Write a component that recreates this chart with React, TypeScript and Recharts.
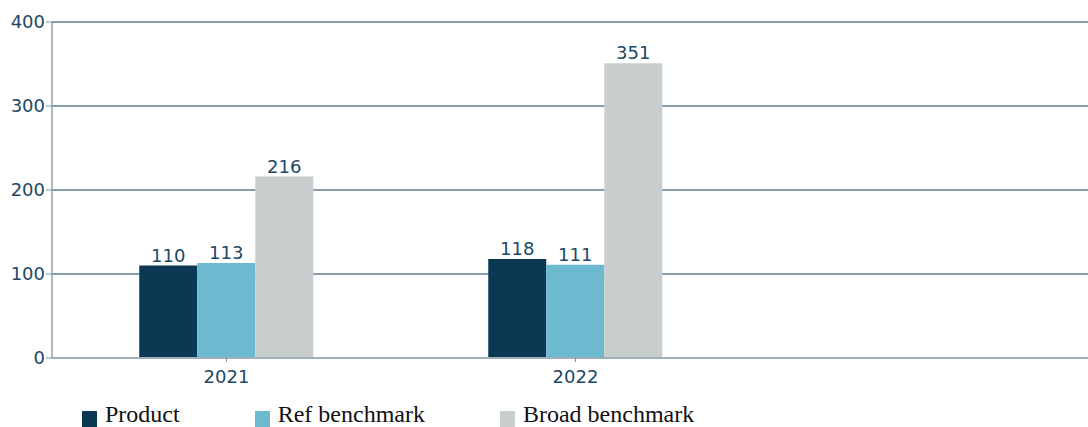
import { BarChart, Bar, XAxis, YAxis, CartesianGrid, LabelList } from 'recharts';

const categories = ['2021', '2022', ''];
const product = [110, 118, null];
const refBenchmark = [113, 111, null];
const broadBenchmark = [216, 351, null];
const yTicks = [0, 100, 200, 300, 400];

const seriesInfo = [
  { key: 'product', name: 'Product', color: '#0b3954' },
  { key: 'refBench', name: 'Ref benchmark', color: '#6db9cf' },
  { key: 'broadBench', name: 'Broad benchmark', color: '#c8cecd' },
];

const data = categories.map((c, i) => ({
  year: c,
  product: product[i],
  refBench: refBenchmark[i],
  broadBench: broadBenchmark[i],
}));

const textColor = '#1b4866';
const font = '"DejaVu Sans", Verdana, sans-serif';

// year tick with its small mark; the empty slot gets nothing
const YearTick = (props: any) => {
  const { x, y, payload } = props;
  if (!payload.value) return null;
  return (
    <g>
      <line x1={x} x2={x} y1={y - 9} y2={y - 4} stroke="#7f95a5" />
      <text x={x} y={y + 17} textAnchor="middle" fill={textColor} fontSize={18} fontFamily={font}>
        {payload.value}
      </text>
    </g>
  );
};

export default function App() {
  return (
    <div style={{ position: 'fixed', left: 0, top: 0, width: 1088, height: 427, overflow: 'hidden', background: '#fff' }}>
      <style>{'html,body{margin:0;overflow:hidden}'}</style>
      <BarChart
        width={1100}
        height={392}
        data={data}
        barCategoryGap="25%"
        barGap={0}
        margin={{ top: 22, right: 1, bottom: 0, left: 0 }}
      >
        <CartesianGrid vertical={false} stroke="#5d7f96" strokeWidth={1.3} />
        <XAxis
          dataKey="year"
          height={34}
          axisLine={{ stroke: '#9fb0bb', strokeWidth: 2 }}
          tickLine={false}
          tick={<YearTick />}
        />
        <YAxis
          width={52}
          domain={[0, 400]}
          ticks={yTicks}
          axisLine={{ stroke: '#7f95a5', strokeWidth: 1.3 }}
          tickLine={{ stroke: '#7f95a5' }}
          tickSize={6}
          tickMargin={1}
          tick={{ fill: textColor, fontSize: 18, fontFamily: font }}
        />
        {seriesInfo.map(s => (
          <Bar key={s.key} dataKey={s.key} name={s.name} fill={s.color} isAnimationActive={false}>
            <LabelList dataKey={s.key} position="top" offset={4} fill={textColor} fontSize={18} fontFamily={font} />
          </Bar>
        ))}
      </BarChart>
      <div style={{ position: 'absolute', left: 82, top: 401, display: 'flex', alignItems: 'flex-end', fontFamily: '"Liberation Serif", "Times New Roman", serif', fontSize: 24, lineHeight: '26px', color: '#111' }}>
        {seriesInfo.map(s => (
          <div key={s.key} style={{ display: 'flex', alignItems: 'flex-end', marginRight: 75 }}>
            <span style={{ display: 'inline-block', width: 15, height: 16, background: s.color, marginRight: 8, marginBottom: 0 }} />
            <span>{s.name}</span>
          </div>
        ))}
      </div>
    </div>
  );
}
